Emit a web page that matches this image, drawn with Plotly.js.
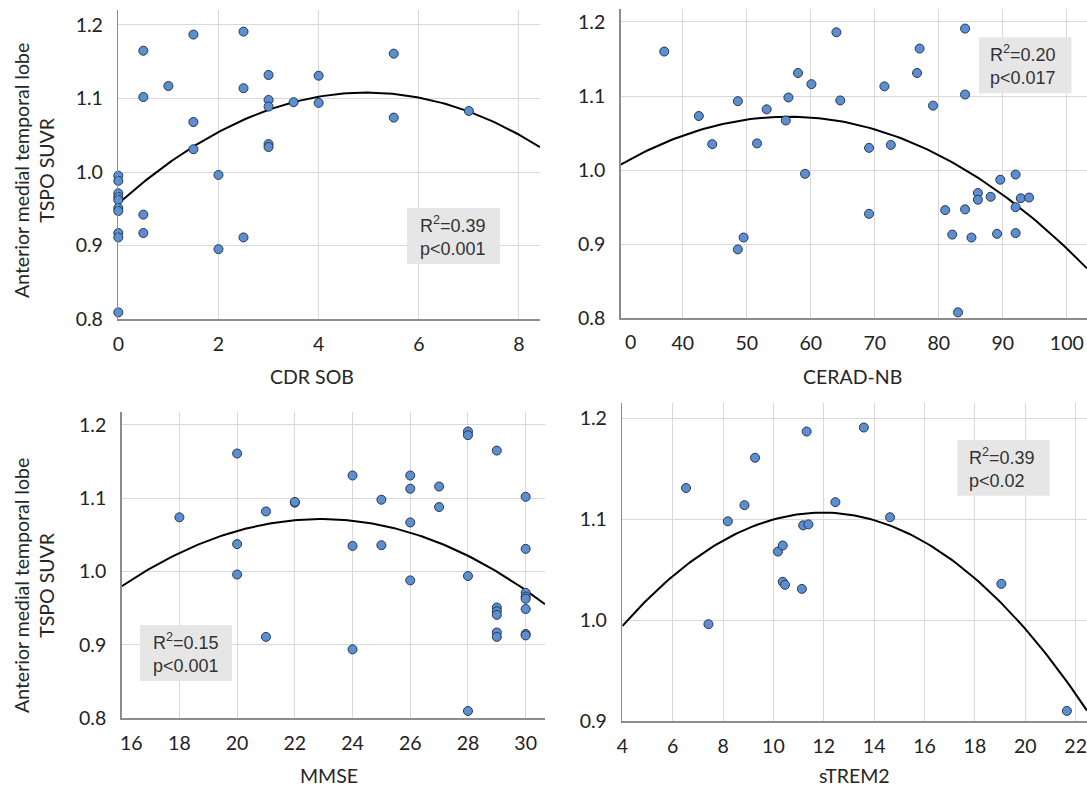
<!DOCTYPE html>
<html>
<head>
<meta charset="utf-8">
<script src="https://cdn.plot.ly/plotly-3.0.1.min.js"></script>
<style>html,body{margin:0;padding:0;background:#fff;}#chart{width:1087px;height:787px;}</style>
</head>
<body>
<div id="chart"></div>
<script>
// ---- Data ----
const cdrX = [0,0,0,0,0,0,0,0,0,0, 0.5,0.5,0.5,0.5, 1, 1.5,1.5,1.5, 2,2, 2.5,2.5,2.5, 3,3,3,3,3, 3.5, 4,4, 5.5,5.5, 7];
const cdrY = [0.995,0.988,0.971,0.966,0.962,0.951,0.947,0.917,0.911,0.809, 1.165,1.102,0.942,0.917, 1.117, 1.187,1.068,1.031, 0.996,0.895, 1.191,1.114,0.911, 1.132,1.098,1.089,1.038,1.034, 1.095, 1.131,1.094, 1.161,1.074, 1.083];

const ceradX = [37.1,42.5,44.6,48.6,48.6,49.5,51.6,53.1,56.1,56.5,58.0,59.1,60.1,64.0,64.6,69.1,69.1,71.5,72.5,76.6,77.0,79.1,81.0,82.1,83.0,84.1,84.1,84.1,85.1,86.1,86.1,88.1,89.1,89.6,92.0,92.0,92.0,92.8,94.1];
const ceradY = [1.160,1.073,1.035,1.093,0.893,0.909,1.036,1.082,1.067,1.098,1.131,0.995,1.116,1.186,1.094,1.030,0.941,1.113,1.034,1.131,1.164,1.087,0.946,0.913,0.808,1.191,1.102,0.947,0.909,0.969,0.960,0.964,0.914,0.987,0.994,0.950,0.915,0.962,0.963];

const mmseX = [18, 20,20,20, 21,21, 22,22, 24,24,24, 25,25, 26,26,26,26, 27,27, 28,28,28,28, 29,29,29,29,29,29, 30,30,30,30,30,30,30,30];
const mmseY = [1.074, 1.161,1.0375,0.996, 1.082,0.911, 1.094,1.095, 1.131,1.035,0.894, 1.098,1.036, 1.131,1.113,1.067,0.988, 1.116,1.088, 1.191,1.186,0.994,0.810, 1.165,0.951,0.946,0.941,0.917,0.911, 1.102,1.031,0.971,0.966,0.963,0.949,0.915,0.913];

const tremX = [6.53,7.42,8.19,8.85,9.27,10.18,10.37,10.37,10.46,11.13,11.18,11.39,11.32,12.46,13.59,14.63,19.05,21.65];
const tremY = [1.131,0.996,1.098,1.114,1.161,1.068,1.074,1.038,1.035,1.031,1.094,1.095,1.187,1.117,1.191,1.102,1.036,0.910];

// quadratic fit coefficients [a, b, c] for y = a*x^2 + b*x + c
const cdrFit = [-0.00616, 0.0610, 0.957];
const ceradFit = [-0.0000940, 0.010622, 0.7720];
const mmseFit = [-0.001922, 0.08803, 0.06359];
const tremFit = [-0.00178, 0.042542, 0.85241];

const xTitles = ["CDR SOB", "CERAD-NB", "MMSE", "sTREM2"];
const yTitle = "Anterior medial temporal lobe<br>TSPO SUVR";
const statsText = ["R<sup>2</sup>=0.39<br>p&lt;0.001", "R<sup>2</sup>=0.20<br>p&lt;0.017", "R<sup>2</sup>=0.15<br>p&lt;0.001", "R<sup>2</sup>=0.39<br>p&lt;0.02"];

// ---- Layout helpers (pixel -> paper) ----
const W = 1087, H = 787;
const px = v => v / W;
const py = v => 1 - v / H;

function curve(fit, x0, x1) {
  const xs = [], ys = [];
  const n = 120;
  for (let i = 0; i <= n; i++) {
    const x = x0 + (x1 - x0) * i / n;
    xs.push(x);
    ys.push(fit[0] * x * x + fit[1] * x + fit[2]);
  }
  return {xs, ys};
}

const ranges = {
  x1: [0, 8.42], y1: [0.8, 1.2204],
  x2: [30.3, 103.15], y2: [0.8, 1.217],
  x3: [16, 30.67], y3: [0.8, 1.218],
  x4: [4, 22.45], y4: [0.9, 1.215]
};

const marker = {size: 9, color: '#5b8fd2', line: {color: '#26384f', width: 1}};
const lineStyle = {color: '#000', width: 2};

const traces = [];
const sets = [
  [cdrX, cdrY, cdrFit, 'x', 'y', ranges.x1],
  [ceradX, ceradY, ceradFit, 'x2', 'y2', ranges.x2],
  [mmseX, mmseY, mmseFit, 'x3', 'y3', ranges.x3],
  [tremX, tremY, tremFit, 'x4', 'y4', ranges.x4]
];
sets.forEach(s => {
  const c = curve(s[2], s[5][0], s[5][1]);
  traces.push({type: 'scatter', mode: 'lines', x: c.xs, y: c.ys, xaxis: s[3], yaxis: s[4], line: lineStyle, hoverinfo: 'skip'});
  traces.push({type: 'scatter', mode: 'markers', x: s[0], y: s[1], xaxis: s[3], yaxis: s[4], marker: marker, cliponaxis: false});
});

const tickFont = {family: 'Lato, "Open Sans", sans-serif', size: 19.5, color: '#222'};
const gridC = '#d9d9d9';
const axC = '#8c8c8c';

function xax(domain, range, tickvals) {
  return {domain: domain, range: range, tickvals: tickvals, ticktext: tickvals.map(String),
    showgrid: true, gridcolor: gridC, gridwidth: 1, zeroline: false,
    showline: true, linecolor: axC, linewidth: 1.5, ticks: '', ticklabelstandoff: 7,
    tickfont: tickFont, fixedrange: true};
}
function yax(domain, range, tickvals) {
  return {domain: domain, range: range, tickvals: tickvals, ticktext: tickvals.map(v => v.toFixed(1)),
    showgrid: true, gridcolor: gridC, gridwidth: 1, zeroline: false,
    showline: true, linecolor: axC, linewidth: 1.5, ticks: '', ticklabelstandoff: 10,
    tickfont: tickFont, fixedrange: true};
}

const layout = {
  width: W, height: H,
  margin: {l: 0, r: 0, t: 0, b: 0},
  paper_bgcolor: '#fff', plot_bgcolor: '#fff',
  showlegend: false,
  xaxis: xax([px(118.3), px(540)], ranges.x1, [0, 2, 4, 6, 8]),
  yaxis: Object.assign(yax([py(319), py(10)], ranges.y1, [0.8, 0.9, 1.0, 1.1, 1.2]), {anchor: 'x'}),
  xaxis2: Object.assign(xax([px(620.7), 1], ranges.x2, [40, 50, 60, 70, 80, 90, 100]), {anchor: 'y2'}),
  yaxis2: Object.assign(yax([py(318.3), py(9.3)], ranges.y2, [0.8, 0.9, 1.0, 1.1, 1.2]), {anchor: 'x2'}),
  xaxis3: Object.assign(xax([px(121.7), px(545)], ranges.x3, [18, 20, 22, 24, 26, 28, 30]), {anchor: 'y3'}),
  yaxis3: Object.assign(yax([py(718.3), py(411.7)], ranges.y3, [0.8, 0.9, 1.0, 1.1, 1.2]), {anchor: 'x3'}),
  xaxis4: Object.assign(xax([px(622.3), 1], ranges.x4, [4, 6, 8, 10, 12, 14, 16, 18, 20, 22]), {anchor: 'y4'}),
  yaxis4: Object.assign(yax([py(721), py(403.3)], ranges.y4, [0.9, 1.0, 1.1, 1.2]), {anchor: 'x4'}),
  shapes: [
    {type: 'rect', xref: 'paper', yref: 'paper', x0: px(407), x1: px(500), y0: py(264), y1: py(208), fillcolor: '#e6e6e6', line: {width: 0}, layer: 'above'},
    {type: 'rect', xref: 'paper', yref: 'paper', x0: px(979), x1: px(1071.5), y0: py(93.3), y1: py(37.3), fillcolor: '#e6e6e6', line: {width: 0}, layer: 'above'},
    {type: 'rect', xref: 'paper', yref: 'paper', x0: px(140), x1: px(232), y0: py(681), y1: py(625), fillcolor: '#e6e6e6', line: {width: 0}, layer: 'above'},
    {type: 'rect', xref: 'paper', yref: 'paper', x0: px(957.5), x1: px(1049.7), y0: py(495.7), y1: py(440), fillcolor: '#e6e6e6', line: {width: 0}, layer: 'above'}
  ],
  annotations: []
};

const titleFont = {family: 'Lato, "Open Sans", sans-serif', size: 19.5, color: '#262626'};
const statFont = {family: '"Liberation Sans", Arial, sans-serif', size: 18, color: '#333'};

// x-axis titles
[[312, 377], [852, 377], [329, 775], [854, 775]].forEach((p, i) => {
  layout.annotations.push({xref: 'paper', yref: 'paper', x: px(p[0]), y: py(p[1]), xanchor: 'center', yanchor: 'middle',
    text: xTitles[i], showarrow: false, font: titleFont});
});
// y-axis titles (left column)
[171, 586].forEach(cy => {
  layout.annotations.push({xref: 'paper', yref: 'paper', x: px(34), y: py(cy), xanchor: 'center', yanchor: 'middle',
    text: yTitle, textangle: -90, showarrow: false, font: titleFont});
});
// stats boxes text
[[418, 236], [988, 65.3], [151, 653], [967, 468]].forEach((p, i) => {
  layout.annotations.push({xref: 'paper', yref: 'paper', x: px(p[0]), y: py(p[1]), xanchor: 'left', yanchor: 'middle', align: 'left',
    text: statsText[i], showarrow: false, font: statFont});
});
// shifted edge tick labels
layout.annotations.push({xref: 'paper', yref: 'paper', x: px(630), y: py(341.5), xanchor: 'center', yanchor: 'middle', text: '0', showarrow: false, font: tickFont});
layout.annotations.push({xref: 'paper', yref: 'paper', x: px(131.7), y: py(742.5), xanchor: 'center', yanchor: 'middle', text: '16', showarrow: false, font: tickFont});

Plotly.newPlot('chart', traces, layout, {displayModeBar: false, staticPlot: true});
</script>
</body>
</html>
